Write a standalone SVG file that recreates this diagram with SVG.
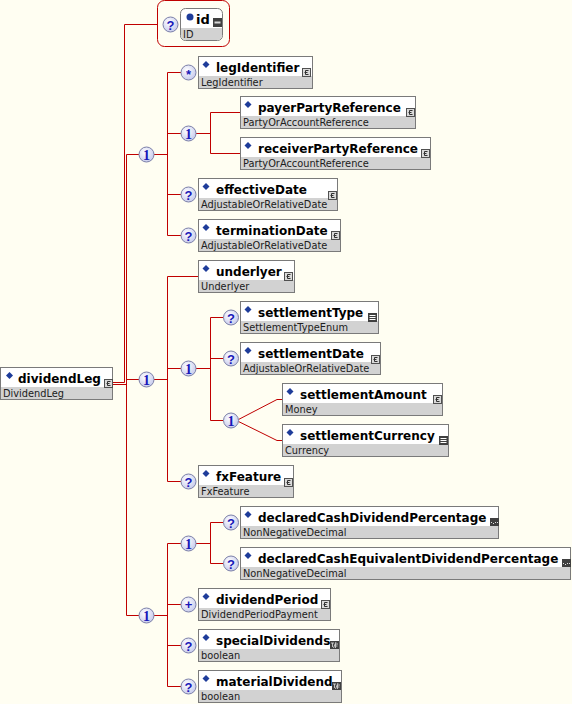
<svg xmlns="http://www.w3.org/2000/svg" xmlns:xlink="http://www.w3.org/1999/xlink" width="572" height="704" viewBox="0 0 572 704">
<style>
.bg{fill:#FFFEF2}
.bx{fill:#FFFFFF;stroke:#7A7A7A;stroke-width:1}
.gr{fill:#D2D2D2}
.dm{fill:#1E3C9A}
.nm{font-family:"DejaVu Sans",Verdana,sans-serif;font-weight:bold;font-size:12px;fill:#000}
.ty{font-family:"DejaVu Sans",Verdana,sans-serif;font-size:9.8px;fill:#202020}
.cn{fill:none;stroke:#C00000;stroke-width:1}
.cc{fill:url(#cg);stroke:#7C80A8;stroke-width:1}
.cq{font-family:"Liberation Sans",Arial,sans-serif;font-weight:bold;font-size:13px;fill:#1818B8;text-anchor:middle}
.c1{font-family:"Liberation Serif","Times New Roman",serif;font-weight:bold;font-size:14px;fill:#1818B8;text-anchor:middle}
</style>
<defs>
<radialGradient id="cg" cx="0.4" cy="0.35" r="0.7">
<stop offset="0" stop-color="#FFFFFF"/>
<stop offset="1" stop-color="#C4C8EC"/>
</radialGradient>
<g id="ic-c"><rect x="0.5" y="0.5" width="8" height="8" fill="#DADADA" stroke="#505050"/><path d="M6.5,2.5 H3.5 V6.5 H6.5 M2.5,4.5 H5.5" fill="none" stroke="#303030"/></g>
<g id="ic-e"><rect x="0" y="0" width="9" height="9" fill="#404040"/><path d="M1.5,2.5 H7.5 M1.5,4.5 H7.5 M1.5,6.5 H7.5" stroke="#FFFFFF" stroke-width="1"/></g>
<g id="ic-d"><rect x="0" y="0" width="9" height="8" fill="#404040"/><rect x="1" y="4" width="1" height="1" fill="#E0E0E0"/><rect x="3" y="5" width="1" height="1" fill="#E0E0E0"/><rect x="5" y="4" width="1" height="1" fill="#E0E0E0"/><rect x="7" y="4" width="1" height="1" fill="#E0E0E0"/></g>
<g id="ic-b"><rect x="0" y="0" width="9" height="8" fill="#404040"/><path d="M1,2 H4 M2.5,2 V6 M3.5,7 L6,1 M5.5,3 V7 M5.5,3 H8 M5.5,5 H7.5" stroke="#E0E0E0" stroke-width="0.8" fill="none"/></g>
<g id="cq"><circle class="cc" r="7.5"/><text class="cq" y="5">?</text></g>
<g id="c1"><circle class="cc" r="7.5"/><text class="c1" y="5">1</text></g>
<g id="cs"><circle class="cc" r="7.5"/><text class="cq" y="6.5">*</text></g>
<g id="cp"><circle class="cc" r="7.5"/><text class="cq" y="4.5">+</text></g>
</defs>
<rect class="bg" x="0" y="0" width="572" height="704"/>

<g id="connectors">
<path class="cn" d="M113,382.5 H124.5 V24.5 H157.5"/>
<path class="cn" d="M113,384.5 H126.5 M126.5,154.5 V615.5 M126.5,154.5 H139 M126.5,379.5 H139 M126.5,615.5 H139"/>
<path class="cn" d="M154,154.5 H167.5 M167.5,72.5 V235.5 M167.5,72.5 H181 M167.5,133.5 H181 M167.5,194.5 H181 M167.5,235.5 H181"/>
<path class="cn" d="M196,133.5 H210.5 M210.5,112.5 V153.5 H240 M210.5,112.5 H240"/>
<path class="cn" d="M154,379.5 H167.5 M167.5,276.5 V481.5 M167.5,276.5 H198 M167.5,368.5 H181 M167.5,481.5 H181"/>
<path class="cn" d="M196,368.5 H210.5 M210.5,317.5 V420.5 M210.5,317.5 H223.5 M210.5,358.5 H223.5 M210.5,420.5 H223.5"/>
<path class="cn" d="M238.5,419.5 L277,399.5 H282 M238.5,421.5 L277,440.5 H282"/>
<path class="cn" d="M154,615.5 H167.5 M167.5,543.5 V686.5 M167.5,543.5 H181 M167.5,604.5 H181 M167.5,645.5 H181 M167.5,686.5 H181"/>
<path class="cn" d="M196,543.5 H210.5 M210.5,522.5 V563.5 M210.5,522.5 H223.5 M210.5,563.5 H223.5"/>
</g>

<g id="seq-main-1"><use xlink:href="#c1" x="146.5" y="154.5"/></g>
<g id="seq-main-2"><use xlink:href="#c1" x="146.5" y="379.5"/></g>
<g id="seq-main-3"><use xlink:href="#c1" x="146.5" y="615.5"/></g>
<g id="seq-parties"><use xlink:href="#c1" x="188.5" y="133.5"/></g>
<g id="seq-settlement"><use xlink:href="#c1" x="188.5" y="368.5"/></g>
<g id="seq-settlement-amount"><use xlink:href="#c1" x="231" y="420.5"/></g>
<g id="seq-declared"><use xlink:href="#c1" x="188.5" y="543.5"/></g>

<g id="n-id">
<rect x="157.5" y="0.5" width="72" height="46" rx="7" fill="none" stroke="#C00000"/>
<use xlink:href="#cq" x="170.5" y="24.5"/>
<rect class="bx" x="180.5" y="8.5" width="42" height="32" rx="5"/>
<path class="gr" d="M181,28 H222 V35 Q222,40 217,40 H186 Q181,40 181,35 Z"/>
<circle cx="190" cy="17" r="3.5" fill="#1E3C9A"/>
<text class="nm" x="196" y="24" style="font-size:13px">id</text>
<text class="ty" x="183" y="37.5">ID</text>
<rect x="213" y="18" width="9" height="9" fill="#404040"/>
<path d="M214.5,22.5 H220.5" stroke="#D8D8D8" stroke-width="2"/>
</g>

<g id="n-dividendLeg" transform="translate(0,367)">
<rect class="bx" x="0.5" y="0.5" width="112" height="32"/>
<rect class="gr" x="1" y="20" width="111" height="12"/>
<polygon class="dm" points="9.5,5 13,8.5 9.5,12 6,8.5"/>
<text class="nm" x="18" y="15.5">dividendLeg</text>
<text class="ty" x="3" y="29.5">DividendLeg</text>
<use xlink:href="#ic-c" x="104" y="12"/>
</g>

<g id="n-legIdentifier" transform="translate(198,56)">
<use xlink:href="#cs" x="-9.5" y="16.5"/>
<rect class="bx" x="0.5" y="0.5" width="114" height="32"/>
<rect class="gr" x="1" y="20" width="113" height="12"/>
<polygon class="dm" points="8,5 11.5,8.5 8,12 4.5,8.5"/>
<text class="nm" x="18" y="15.5">legIdentifier</text>
<text class="ty" x="3" y="29.5">LegIdentifier</text>
<use xlink:href="#ic-c" x="104" y="12"/>
</g>

<g id="n-payerPartyReference" transform="translate(240,96)">
<rect class="bx" x="0.5" y="0.5" width="175" height="32"/>
<rect class="gr" x="1" y="20" width="174" height="12"/>
<polygon class="dm" points="8,5 11.5,8.5 8,12 4.5,8.5"/>
<text class="nm" x="18" y="15.5">payerPartyReference</text>
<text class="ty" x="3" y="29.5">PartyOrAccountReference</text>
<use xlink:href="#ic-c" x="166" y="12"/>
</g>

<g id="n-receiverPartyReference" transform="translate(240,137)">
<rect class="bx" x="0.5" y="0.5" width="190" height="32"/>
<rect class="gr" x="1" y="20" width="189" height="12"/>
<polygon class="dm" points="8,5 11.5,8.5 8,12 4.5,8.5"/>
<text class="nm" x="18" y="15.5">receiverPartyReference</text>
<text class="ty" x="3" y="29.5">PartyOrAccountReference</text>
<use xlink:href="#ic-c" x="181" y="12"/>
</g>

<g id="n-effectiveDate" transform="translate(198,178)">
<use xlink:href="#cq" x="-9.5" y="16.5"/>
<rect class="bx" x="0.5" y="0.5" width="139" height="32"/>
<rect class="gr" x="1" y="20" width="138" height="12"/>
<polygon class="dm" points="8,5 11.5,8.5 8,12 4.5,8.5"/>
<text class="nm" x="18" y="15.5">effectiveDate</text>
<text class="ty" x="3" y="29.5">AdjustableOrRelativeDate</text>
<use xlink:href="#ic-c" x="130" y="13"/>
</g>

<g id="n-terminationDate" transform="translate(198,219)">
<use xlink:href="#cq" x="-9.5" y="16.5"/>
<rect class="bx" x="0.5" y="0.5" width="142" height="32"/>
<rect class="gr" x="1" y="20" width="141" height="12"/>
<polygon class="dm" points="8,5 11.5,8.5 8,12 4.5,8.5"/>
<text class="nm" x="18" y="15.5">terminationDate</text>
<text class="ty" x="3" y="29.5">AdjustableOrRelativeDate</text>
<use xlink:href="#ic-c" x="133" y="12"/>
</g>

<g id="n-underlyer" transform="translate(198,260)">
<rect class="bx" x="0.5" y="0.5" width="96" height="32"/>
<rect class="gr" x="1" y="20" width="95" height="12"/>
<polygon class="dm" points="8,5 11.5,8.5 8,12 4.5,8.5"/>
<text class="nm" x="18" y="15.5">underlyer</text>
<text class="ty" x="3" y="29.5">Underlyer</text>
<use xlink:href="#ic-c" x="86" y="12"/>
</g>

<g id="n-settlementType" transform="translate(240,301)">
<use xlink:href="#cq" x="-9" y="16.5"/>
<rect class="bx" x="0.5" y="0.5" width="138" height="32"/>
<rect class="gr" x="1" y="20" width="137" height="12"/>
<polygon class="dm" points="8,5 11.5,8.5 8,12 4.5,8.5"/>
<text class="nm" x="18" y="15.5">settlementType</text>
<text class="ty" x="3" y="29.5">SettlementTypeEnum</text>
<use xlink:href="#ic-e" x="128" y="12"/>
</g>

<g id="n-settlementDate" transform="translate(240,342)">
<use xlink:href="#cq" x="-9" y="16.5"/>
<rect class="bx" x="0.5" y="0.5" width="140" height="32"/>
<rect class="gr" x="1" y="20" width="139" height="12"/>
<polygon class="dm" points="8,5 11.5,8.5 8,12 4.5,8.5"/>
<text class="nm" x="18" y="15.5">settlementDate</text>
<text class="ty" x="3" y="29.5">AdjustableOrRelativeDate</text>
<use xlink:href="#ic-c" x="131" y="13"/>
</g>

<g id="n-settlementAmount" transform="translate(282,383)">
<rect class="bx" x="0.5" y="0.5" width="160" height="32"/>
<rect class="gr" x="1" y="20" width="159" height="12"/>
<polygon class="dm" points="8,5 11.5,8.5 8,12 4.5,8.5"/>
<text class="nm" x="18" y="15.5">settlementAmount</text>
<text class="ty" x="3" y="29.5">Money</text>
<use xlink:href="#ic-c" x="151" y="12"/>
</g>

<g id="n-settlementCurrency" transform="translate(282,424)">
<rect class="bx" x="0.5" y="0.5" width="166" height="32"/>
<rect class="gr" x="1" y="20" width="165" height="12"/>
<polygon class="dm" points="8,5 11.5,8.5 8,12 4.5,8.5"/>
<text class="nm" x="18" y="15.5">settlementCurrency</text>
<text class="ty" x="3" y="29.5">Currency</text>
<use xlink:href="#ic-e" x="157" y="12"/>
</g>

<g id="n-fxFeature" transform="translate(198,465)">
<use xlink:href="#cq" x="-9.5" y="16.5"/>
<rect class="bx" x="0.5" y="0.5" width="95" height="32"/>
<rect class="gr" x="1" y="20" width="94" height="12"/>
<polygon class="dm" points="8,5 11.5,8.5 8,12 4.5,8.5"/>
<text class="nm" x="18" y="15.5">fxFeature</text>
<text class="ty" x="3" y="29.5">FxFeature</text>
<use xlink:href="#ic-c" x="86" y="13"/>
</g>

<g id="n-declaredCashDividendPercentage" transform="translate(240,506)">
<use xlink:href="#cq" x="-9" y="16.5"/>
<rect class="bx" x="0.5" y="0.5" width="258" height="32"/>
<rect class="gr" x="1" y="20" width="257" height="12"/>
<polygon class="dm" points="8,5 11.5,8.5 8,12 4.5,8.5"/>
<text class="nm" x="18" y="15.5">declaredCashDividendPercentage</text>
<text class="ty" x="3" y="29.5">NonNegativeDecimal</text>
<use xlink:href="#ic-d" x="250" y="12"/>
</g>

<g id="n-declaredCashEquivalentDividendPercentage" transform="translate(240,547)">
<use xlink:href="#cq" x="-9" y="16.5"/>
<rect class="bx" x="0.5" y="0.5" width="330" height="32"/>
<rect class="gr" x="1" y="20" width="329" height="12"/>
<polygon class="dm" points="8,5 11.5,8.5 8,12 4.5,8.5"/>
<text class="nm" x="18" y="15.5">declaredCashEquivalentDividendPercentage</text>
<text class="ty" x="3" y="29.5">NonNegativeDecimal</text>
<use xlink:href="#ic-d" x="322" y="12"/>
</g>

<g id="n-dividendPeriod" transform="translate(198,588)">
<use xlink:href="#cp" x="-9.5" y="16.5"/>
<rect class="bx" x="0.5" y="0.5" width="132" height="32"/>
<rect class="gr" x="1" y="20" width="131" height="12"/>
<polygon class="dm" points="8,5 11.5,8.5 8,12 4.5,8.5"/>
<text class="nm" x="18" y="15.5">dividendPeriod</text>
<text class="ty" x="3" y="29.5">DividendPeriodPayment</text>
<use xlink:href="#ic-c" x="123" y="12"/>
</g>

<g id="n-specialDividends" transform="translate(198,629)">
<use xlink:href="#cq" x="-9.5" y="16.5"/>
<rect class="bx" x="0.5" y="0.5" width="141" height="32"/>
<rect class="gr" x="1" y="20" width="140" height="12"/>
<polygon class="dm" points="8,5 11.5,8.5 8,12 4.5,8.5"/>
<text class="nm" x="18" y="15.5">specialDividends</text>
<text class="ty" x="3" y="29.5">boolean</text>
<use xlink:href="#ic-b" x="132" y="12"/>
</g>

<g id="n-materialDividend" transform="translate(198,670)">
<use xlink:href="#cq" x="-9.5" y="16.5"/>
<rect class="bx" x="0.5" y="0.5" width="143" height="32"/>
<rect class="gr" x="1" y="20" width="142" height="12"/>
<polygon class="dm" points="8,5 11.5,8.5 8,12 4.5,8.5"/>
<text class="nm" x="18" y="15.5">materialDividend</text>
<text class="ty" x="3" y="29.5">boolean</text>
<use xlink:href="#ic-b" x="134" y="12"/>
</g>
</svg>
